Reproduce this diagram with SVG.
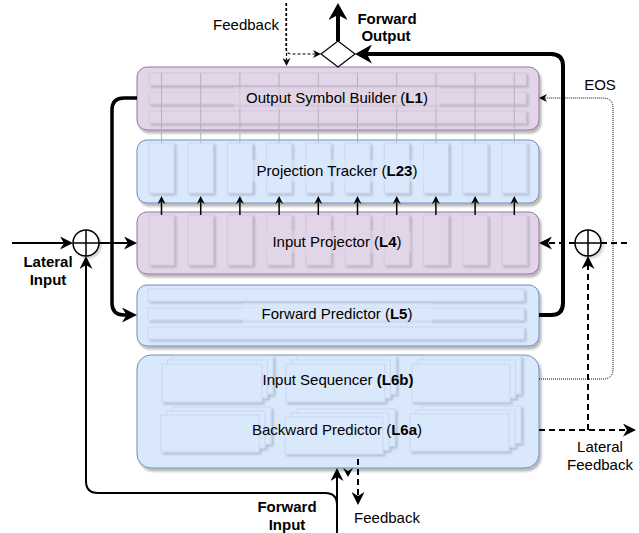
<svg xmlns="http://www.w3.org/2000/svg" width="639" height="533" viewBox="0 0 639 533">
  <defs>
    <filter id="shadow" x="-10%" y="-10%" width="130%" height="140%">
      <feDropShadow dx="2" dy="3" stdDeviation="1.2" flood-color="#000" flood-opacity="0.28"/>
    </filter>
    <filter id="cellShadow" x="-20%" y="-20%" width="150%" height="160%">
      <feDropShadow dx="2" dy="2" stdDeviation="0.8" flood-color="#000" flood-opacity="0.18"/>
    </filter>
    <marker id="sm" viewBox="0 0 10 10" refX="3" refY="5" markerWidth="8" markerHeight="8" orient="auto" markerUnits="userSpaceOnUse">
      <path d="M0,0 L10,5 L0,10 L3,5 z" fill="#000"/>
    </marker>
    <marker id="md" viewBox="0 0 10 10" refX="3" refY="5" markerWidth="13" markerHeight="13" orient="auto" markerUnits="userSpaceOnUse">
      <path d="M0,0 L10,5 L0,10 L3,5 z" fill="#000"/>
    </marker>
    <marker id="mdl" viewBox="0 0 10 10" refX="3" refY="5" markerWidth="15" markerHeight="15" orient="auto" markerUnits="userSpaceOnUse">
      <path d="M0,0 L10,5 L0,10 L3,5 z" fill="#000"/>
    </marker>
    <marker id="lg" viewBox="0 0 10 10" refX="3" refY="5" markerWidth="17" markerHeight="19" orient="auto" markerUnits="userSpaceOnUse" preserveAspectRatio="none">
      <path d="M0,0 L10,5 L0,10 L3,5 z" fill="#000"/>
    </marker>
    <style>
      text { font-family: "Liberation Sans", Arial, Helvetica, sans-serif; font-size: 15px; fill: #000; }
      .b { font-weight: bold; }
      .mid { text-anchor: middle; }
      .purple { fill: #e1d5e7; stroke: #9673a6; stroke-width: 1; }
      .blue { fill: #dae8fc; stroke: #6c8ebf; stroke-width: 1; }
      .pcell { fill: #e1d5e7; stroke: #d5c6dd; stroke-width: 1; }
      .bcell { fill: #dae8fc; stroke: #c6d7ef; stroke-width: 1; }
      .pbg { fill: #e1d5e7; opacity: 0.6; }
      .bbg { fill: #dae8fc; opacity: 0.6; }
      .link { stroke: #b3b3b3; stroke-width: 1; fill: none; }
      .line { stroke: #000; fill: none; stroke-linejoin: round; }
      .dash { stroke: #000; fill: none; stroke-width: 2; stroke-dasharray: 6 4; }
      .dashThin { stroke: #000; fill: none; stroke-width: 1.2; stroke-dasharray: 3 2; }
      .dot { stroke: #000; fill: none; stroke-width: 1; stroke-dasharray: 1 1; }
    </style>
  </defs>

  <!-- L1 -->
  <g id="output-symbol-builder">
    <rect class="purple" x="137" y="67" width="402" height="63" rx="10" filter="url(#shadow)"/>
    <g filter="url(#cellShadow)">
      <rect class="pcell" x="149" y="73" width="377" height="12"/>
      <rect class="pcell" x="149" y="92" width="377" height="12"/>
      <rect class="pcell" x="149" y="111" width="377" height="12"/>
    </g>
  </g>

  <!-- L23 -->
  <g id="projection-tracker">
    <rect class="blue" x="137" y="140" width="402" height="63" rx="10" filter="url(#shadow)"/>
    <g filter="url(#cellShadow)">
      <rect class="bcell" x="149" y="143" width="25" height="50"/>
      <rect class="bcell" x="188.2" y="143" width="25" height="50"/>
      <rect class="bcell" x="227.4" y="143" width="25" height="50"/>
      <rect class="bcell" x="266.6" y="143" width="25" height="50"/>
      <rect class="bcell" x="305.8" y="143" width="25" height="50"/>
      <rect class="bcell" x="345" y="143" width="25" height="50"/>
      <rect class="bcell" x="384.2" y="143" width="25" height="50"/>
      <rect class="bcell" x="423.4" y="143" width="25" height="50"/>
      <rect class="bcell" x="462.6" y="143" width="25" height="50"/>
      <rect class="bcell" x="501.8" y="143" width="25" height="50"/>
    </g>
    <rect class="bbg" x="246" y="160" width="182" height="22"/>
    <text class="mid" x="337" y="176">Projection Tracker (<tspan class="b">L23</tspan>)</text>
  </g>

  <!-- L4 -->
  <g id="input-projector">
    <rect class="purple" x="137" y="212" width="402" height="62" rx="10" filter="url(#shadow)"/>
    <g filter="url(#cellShadow)">
      <rect class="pcell" x="149" y="215" width="25" height="50"/>
      <rect class="pcell" x="188.2" y="215" width="25" height="50"/>
      <rect class="pcell" x="227.4" y="215" width="25" height="50"/>
      <rect class="pcell" x="266.6" y="215" width="25" height="50"/>
      <rect class="pcell" x="305.8" y="215" width="25" height="50"/>
      <rect class="pcell" x="345" y="215" width="25" height="50"/>
      <rect class="pcell" x="384.2" y="215" width="25" height="50"/>
      <rect class="pcell" x="423.4" y="215" width="25" height="50"/>
      <rect class="pcell" x="462.6" y="215" width="25" height="50"/>
      <rect class="pcell" x="501.8" y="215" width="25" height="50"/>
    </g>
    <rect class="pbg" x="263" y="231" width="148" height="22"/>
    <text class="mid" x="337" y="247">Input Projector (<tspan class="b">L4</tspan>)</text>
  </g>

  <!-- L5 -->
  <g id="forward-predictor">
    <rect class="blue" x="137" y="285" width="402" height="61" rx="10" filter="url(#shadow)"/>
    <g filter="url(#cellShadow)">
      <rect class="bcell" x="148" y="289" width="376" height="12"/>
      <rect class="bcell" x="148" y="308" width="376" height="12"/>
      <rect class="bcell" x="148" y="327" width="376" height="12"/>
    </g>
    <rect class="bbg" x="243" y="303" width="189" height="22"/>
    <text class="mid" x="337" y="319">Forward Predictor (<tspan class="b">L5</tspan>)</text>
  </g>

  <!-- L6 -->
  <g id="sequencer-backward-predictor">
    <rect class="blue" x="137" y="355" width="402" height="113" rx="14" filter="url(#shadow)"/>
    <g filter="url(#cellShadow)">
      <!-- L6b stacks -->
      <rect class="bcell" x="173" y="356" width="100" height="38"/>
      <rect class="bcell" x="167.5" y="360" width="100" height="38"/>
      <rect class="bcell" x="162" y="364" width="100" height="38"/>
      <rect class="bcell" x="297" y="356" width="99" height="38"/>
      <rect class="bcell" x="291.5" y="360" width="99" height="38"/>
      <rect class="bcell" x="286" y="364" width="99" height="38"/>
      <rect class="bcell" x="423" y="356" width="98" height="38"/>
      <rect class="bcell" x="417.5" y="360" width="98" height="38"/>
      <rect class="bcell" x="412" y="364" width="98" height="38"/>
      <!-- L6a stacks -->
      <rect class="bcell" x="173" y="407" width="98" height="37"/>
      <rect class="bcell" x="167" y="411" width="98" height="37"/>
      <rect class="bcell" x="161" y="415" width="98" height="37"/>
      <rect class="bcell" x="297" y="409" width="98" height="37"/>
      <rect class="bcell" x="291" y="413" width="98" height="37"/>
      <rect class="bcell" x="285" y="417" width="98" height="37"/>
      <rect class="bcell" x="422" y="406" width="99" height="37"/>
      <rect class="bcell" x="416" y="410" width="99" height="37"/>
      <rect class="bcell" x="410" y="414" width="99" height="37"/>
    </g>
    <text class="mid" x="338" y="385">Input Sequencer <tspan class="b">(L6b)</tspan></text>
    <text class="mid" x="337" y="435">Backward Predictor (<tspan class="b">L6a</tspan>)</text>
  </g>

  <!-- summing junctions and output gate -->
  <g id="lateral-sum">
    <circle cx="86" cy="243" r="13" fill="#fff" stroke="#000" stroke-width="1.5" filter="url(#cellShadow)"/>
    <path d="M73,243 H99 M86,230 V256" stroke="#000" stroke-width="1.5"/>
  </g>
  <g id="feedback-sum">
    <circle cx="588" cy="243" r="13" fill="#fff" stroke="#000" stroke-width="1.5" filter="url(#cellShadow)"/>
    <path d="M575,243 H601 M588,230 V256" stroke="#000" stroke-width="1.5"/>
  </g>
  <g id="output-gate">
    <polygon points="338,41 355,54 338,67 321,54" fill="#fff" stroke="#000" stroke-width="1.2"/>
  </g>

  <g id="connectors">
    <!-- L1 to L23 column links -->
    <path class="link" d="M161.5,73 V143 M200.7,73 V143 M239.9,73 V143 M279.1,73 V143 M318.3,73 V143 M357.5,73 V143 M396.7,73 V143 M435.9,73 V143 M475.1,73 V143 M514.3,73 V143"/>

    <!-- L4 to L23 -->
    <g class="line" stroke-width="1.5" marker-end="url(#sm)">
      <path d="M161.5,215 V201.6"/>
      <path d="M200.7,215 V201.6"/>
      <path d="M239.9,215 V201.6"/>
      <path d="M279.1,215 V201.6"/>
      <path d="M318.3,215 V201.6"/>
      <path d="M357.5,215 V201.6"/>
      <path d="M396.7,215 V201.6"/>
      <path d="M435.9,215 V201.6"/>
      <path d="M475.1,215 V201.6"/>
      <path d="M514.3,215 V201.6"/>
    </g>

    <!-- lateral input -->
    <path class="line" stroke-width="2" d="M12,243 H63.9" marker-end="url(#md)"/>
    <path class="line" stroke-width="2" d="M99,243 H127.9" marker-end="url(#md)"/>

    <!-- forward input -->
    <path class="line" stroke-width="2" d="M337,533 V477.1" marker-end="url(#md)"/>
    <path class="line" stroke-width="2" d="M337,533 V505 Q337,493 325,493 H98 Q86,493 86,481 V265.1" marker-end="url(#md)"/>

    <!-- L1 to L5 -->
    <path class="line" stroke-width="3.5" d="M137,98 H124 Q112,98 112,110 V303 Q112,315 124,315 H126.5" marker-end="url(#mdl)"/>

    <!-- L5 to output gate -->
    <path class="line" stroke-width="4" d="M539,315 H551 Q563,315 563,303 V66 Q563,54 551,54 H366.9" marker-end="url(#lg)"/>

    <!-- forward output -->
    <path class="line" stroke-width="4" d="M338,41 V14.9" marker-end="url(#lg)"/>

    <!-- feedback in at top -->
    <path class="dashThin" d="M286,3 V48 Q286,54 292,54 H315.4" marker-end="url(#sm)"/>
    <path class="dashThin" d="M286.5,3 V60.4" marker-end="url(#sm)"/>

    <!-- EOS -->
    <path class="dot" d="M539,379 H603 Q613,379 613,369 V108 Q613,98 603,98 H544.6" marker-end="url(#sm)"/>

    <!-- lateral feedback -->
    <path class="dash" d="M627,243 H601"/>
    <path class="dash" d="M575,243 H548.1" marker-end="url(#md)"/>
    <path class="dash" d="M588,430 V265.1" marker-end="url(#md)"/>
    <path class="dash" d="M539,430 H626.9" marker-end="url(#md)"/>

    <!-- feedback out at bottom -->
    <path class="dash" d="M358,459 V495.9" marker-end="url(#md)"/>
    <path d="M343,468 L348,471 L353,468 L348,477 z" fill="#000"/>
  </g>

  <!-- free labels -->
  <g id="labels">
    <text class="mid" x="246" y="30">Feedback</text>
    <text class="mid b" x="387" y="24">Forward</text>
    <text class="mid b" x="386" y="41">Output</text>
    <text class="mid" x="600" y="90">EOS</text>
    <text class="mid b" x="48" y="267">Lateral</text>
    <text class="mid b" x="48" y="285">Input</text>
    <text class="mid" x="600" y="452">Lateral</text>
    <text class="mid" x="600" y="470">Feedback</text>
    <text class="mid b" x="287" y="512">Forward</text>
    <text class="mid b" x="287" y="530">Input</text>
    <text class="mid" x="387" y="523">Feedback</text>
  </g>

  <!-- L1 label on top of the column links -->
  <g id="output-symbol-builder-label">
    <rect class="pbg" x="234" y="87" width="206" height="22"/>
    <text class="mid" x="337" y="103">Output Symbol Builder (<tspan class="b">L1</tspan>)</text>
  </g>
</svg>
